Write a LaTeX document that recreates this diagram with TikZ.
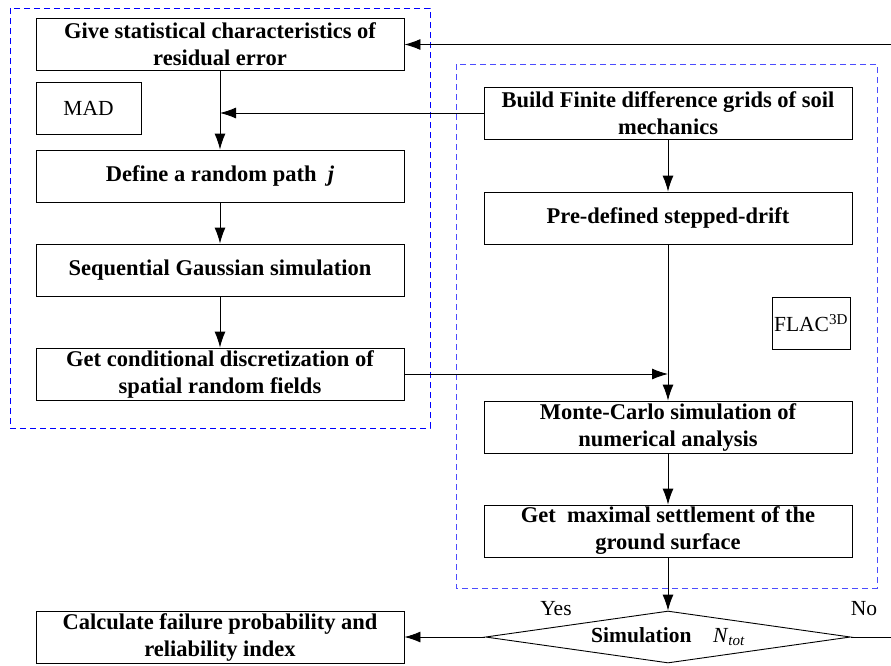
\documentclass[tikz,border=0pt]{standalone}
\usepackage{fontspec}
\setmainfont{Liberation Serif}
\usetikzlibrary{arrows.meta, shapes.geometric}

\begin{document}
\begin{tikzpicture}[
        x=1pt, y=-1pt,
        font=\fontsize{21.5}{27}\selectfont,
        box/.style={draw, line width=0.9pt, align=center, minimum width=368pt, minimum height=52pt, inner sep=1pt, font=\fontsize{22.5}{27}\selectfont\bfseries},
        note/.style={draw, line width=0.9pt, minimum height=52pt, inner sep=2pt},
        decision/.style={draw, diamond, line width=0.9pt, minimum width=365pt, minimum height=52pt, inner sep=0pt, aspect=7},
        group/.style={draw=blue, dashed, line width=0.9pt, dash pattern=on 6pt off 4pt},
        flow/.style={draw, line width=0.9pt, -{Latex[length=16pt, width=11pt]}}
    ]
    \useasboundingbox (0,0) rectangle (891,665);

    % left block
    \draw[group] (10,8) rectangle (430,428);
    \node[box] (give) at (220,44.5) {Give statistical characteristics of\\residual error};
    \node[note, minimum width=105pt] (mad) at (88.5,108) {MAD};
    \node[box] (path) at (220,176) {Define a random path \ \textit{j}};
    \node[box] (sgs) at (220,270) {Sequential Gaussian simulation};
    \node[box] (cond) at (220,374) {Get conditional discretization of\\spatial random fields};

    % right block
    \draw[group, draw=blue!70] (456,64) rectangle (877,588);
    \node[box] (grid) at (668,113) {Build Finite difference grids of soil\\mechanics};
    \node[box] (drift) at (668,218) {Pre-defined stepped-drift};
    \node[note, minimum width=78pt] (flac) at (811,323) {FLAC\textsuperscript{3D}};
    \node[box] (mc) at (668,427) {Monte-Carlo simulation of\\numerical analysis};
    \node[box] (settle) at (668,531) {Get \ maximal settlement of the\\ground surface};

    % decision
    \node[decision] (sim) at (668,637) {\textbf{Simulation}\quad\textit{N}\textsubscript{\itshape tot}};
    \node[box] (calc) at (220,637) {Calculate failure probability and\\reliability index};
    \coordinate (back) at (897,637);
    \coordinate (top) at (897,44.5);

    \path[flow] (give.south) -- (path.north);
    \path[flow] (grid.west) -- (grid.west -| give.south);
    \path[flow] (path) -- (sgs);
    \path[flow] (sgs) -- (cond);
    \path[flow] (grid) -- (drift);
    \path[flow] (drift) -- (mc);
    \path[flow] (cond.east) -- (cond.east -| drift.south);
    \path[flow] (mc) -- (settle);
    \path[flow] (settle) -- (sim.north);
    \path[flow] (sim.west) -- (calc.east);
    \path[flow] (sim.east) -- (back) -- (top) -- (give.east);

    \node at (556,609) {Yes};
    \node at (864,609) {No};
\end{tikzpicture}
\end{document}
